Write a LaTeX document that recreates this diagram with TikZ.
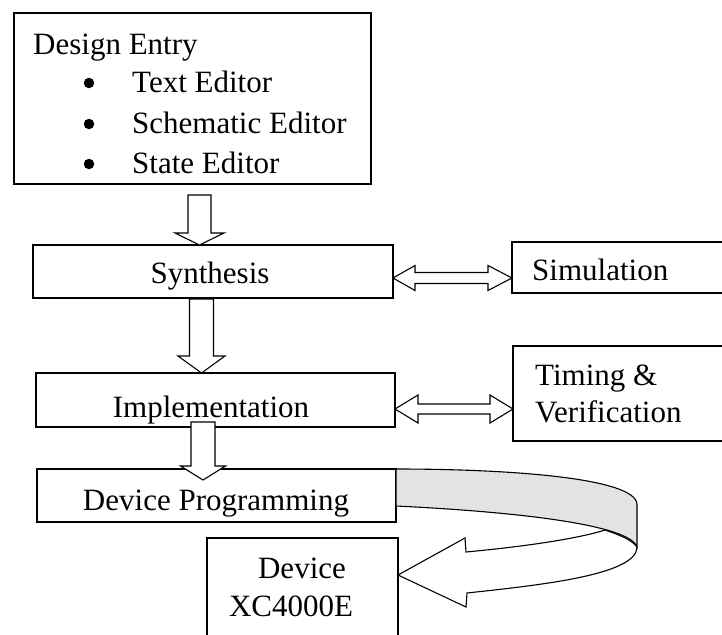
\documentclass[tikz,border=0pt]{standalone}
\usepackage{fontspec}
\setmainfont{Liberation Serif}
\begin{document}
\begin{tikzpicture}[x=1pt,y=-1pt,
  box/.style={draw, line width=1.1pt, inner sep=0pt, outer sep=0pt},
  lbl/.style={anchor=base, inner sep=0pt, font=\fontsize{31}{37}\selectfont},
  lbll/.style={lbl, anchor=base west},
  bul/.style={circle, fill=black, inner sep=0pt, minimum size=10.5pt},
  blk/.style={draw, line width=1.1pt, fill=white, line join=miter},
  back/.style={draw, line width=1.1pt, fill=black!11, line join=miter}]
\useasboundingbox (0,0) rectangle (722,634);
\clip (0,0) rectangle (722,634);

% boxes
\node[box, minimum width=357, minimum height=171] (de) at (192.5,98.5) {};
\node[box, minimum width=360, minimum height=53] (syn) at (213,271.5) {};
\node[box, minimum width=230, minimum height=51] (sim) at (627,267.5) {};
\node[box, minimum width=359, minimum height=54] (imp) at (215.5,400) {};
\node[box, minimum width=229, minimum height=95] (tim) at (627.5,393.5) {};
\node[box, minimum width=359, minimum height=53] (dp) at (216.5,495.5) {};
\node[box, minimum width=191, minimum height=120] (dev) at (302.5,598) {};

% texts
\node[lbll] (t0) at (33,55) {Design Entry};
\node[bul] (b1) at (89,83) {};
\node[bul] (b2) at (89,124) {};
\node[bul] (b3) at (89,164) {};
\node[lbll] (t1) at (132,92) {Text Editor};
\node[lbll] (t2) at (132,133) {Schematic Editor};
\node[lbll] (t3) at (132,173) {State Editor};
\node[lbl] (tsyn) at (210,283) {Synthesis};
\node[lbll] (tsim) at (532,280) {Simulation};
\node[lbl] (timp) at (211,417) {Implementation};
\node[lbll] (ttim1) at (535,385) {Timing \&};
\node[lbll] (ttim2) at (535,422) {Verification};
\node[lbl] (tdp) at (216,510) {Device Programming};
\node[lbl] (tdev1) at (302,578) {Device};
\node[lbl] (tdev2) at (291,616) {XC4000E};

% block arrows down
\draw[blk] (188,195) -- (211,195) -- (211,233) -- (224,233) -- (199.5,245) -- (175,233) -- (188,233) -- cycle;
\draw[blk] (189.5,299) -- (213.5,299) -- (213.5,356) -- (225,356) -- (201.5,373) -- (178,356) -- (189.5,356) -- cycle;
\draw[blk] (191,422) -- (215,422) -- (215,466) -- (225.5,466) -- (203,480) -- (180.5,466) -- (191,466) -- cycle;

% double arrows
\draw[blk] (393,278) -- (415,265.5) -- (415,272.5) -- (488,272.5) -- (488,265.5) -- (512,278) -- (488,290.5) -- (488,283.5) -- (415,283.5) -- (415,290.5) -- cycle;
\draw[blk] (395,409) -- (418,395) -- (418,404) -- (490,404) -- (490,395) -- (513,409) -- (490,423) -- (490,414) -- (418,414) -- (418,423) -- cycle;

% curled ribbon arrow
\draw[back] (396,469) .. controls (510,469) and (635,478) .. (637,504) -- (637,547) .. controls (630,525) and (520,512) .. (396,506) -- cycle;
\draw[blk] (466,552) .. controls (530,546) and (580,538) .. (605,530) .. controls (620,535) and (632,540) .. (637,547) .. controls (637,575) and (540,585) .. (467,593) -- (466,607) -- (398,575) -- (465,538) -- cycle;
\end{tikzpicture}
\end{document}
